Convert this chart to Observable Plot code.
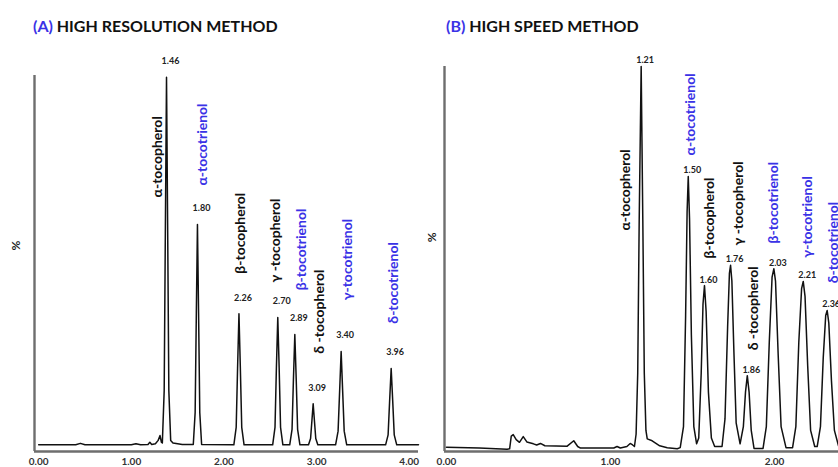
<!DOCTYPE html>
<html><head><meta charset="utf-8">
<script src="https://cdn.jsdelivr.net/npm/d3@7"></script>
<script src="https://cdn.jsdelivr.net/npm/@observablehq/plot@0.6"></script>
<style>
html,body{margin:0;padding:0;width:838px;height:467px;overflow:hidden;background:#fff;font-family:Lato,sans-serif;}
#a,#b{position:absolute;top:0;height:467px;overflow:hidden;}
#a{left:0;width:420px}
#b{left:420px;width:418px}
.title{position:absolute;top:16px;font-weight:bold;font-size:16px;line-height:20px;font-family:Lato,sans-serif;color:#111;white-space:nowrap;}
.title span{color:#3a32e6}
</style></head>
<body>
<div id="a"></div><div id="b"></div>
<div class="title" style="left:33px"><span>(A)</span> HIGH RESOLUTION METHOD</div>
<div class="title" style="left:446px"><span>(B)</span> HIGH SPEED METHOD</div>
<script>
// ---- (A) High resolution method ----
const compoundsA = ["α-tocopherol","α-tocotrienol","β-tocopherol","γ -tocopherol","β-tocotrienol","δ -tocopherol","γ-tocotrienol","δ-tocotrienol"];
const rtLabelsA = ["1.46","1.80","2.26","2.70","2.89","3.09","3.40","3.96"];
const peakXA = [1.380,1.714,2.162,2.581,2.765,2.963,3.265,3.805];
const peakHA = [99.5,59.8,35.7,34.7,30.1,11.4,25.5,20.9];
const nameXA = [1.282,1.765,2.178,2.556,2.837,3.034,3.337,3.827];
const nameYA = [67.1,70.3,46.5,44.1,42.0,24.9,39.3,33.0];
const ticksA = [0,1,2,3,4];
const traceA = [
 [0.00,0.3],[0.40,0.3],[0.45,0.7],[0.50,0.3],[1.00,0.3],[1.05,0.6],[1.10,0.3],[1.18,0.4],[1.20,1.0],[1.22,0.4],[1.26,0.6],[1.29,1.5],[1.31,2.8],[1.325,1.0],
 [1.335,0.8],[1.355,15],[1.368,60],[1.380,99.5],[1.392,60],[1.405,15],[1.425,1.5],[1.45,0.8],[1.55,0.4],
 [1.669,0.4],[1.689,9],[1.702,36],[1.714,59.8],[1.726,36],[1.739,9],[1.759,0.4],
 [2.107,0.3],[2.132,5],[2.147,21],[2.162,35.7],[2.177,21],[2.192,5],[2.217,0.3],
 [2.526,0.3],[2.551,5],[2.566,21],[2.581,34.7],[2.596,21],[2.611,5],[2.636,0.3],
 [2.71,0.3],[2.735,4.5],[2.75,18],[2.765,30.1],[2.78,18],[2.795,4.5],[2.82,0.3],
 [2.913,0.3],[2.935,2],[2.95,7],[2.963,11.4],[2.976,7],[2.991,2],[3.013,0.3],
 [3.205,0.3],[3.232,4],[3.249,15],[3.265,25.5],[3.281,15],[3.298,4],[3.325,0.3],
 [3.745,0.3],[3.772,3],[3.789,12.5],[3.805,20.9],[3.821,12.5],[3.838,3],[3.865,0.3],[4.10,0.3]
];

// ---- (B) High speed method ----
const compoundsB = ["α-tocopherol","α-tocotrienol","β-tocopherol","γ -tocopherol","δ -tocopherol","β-tocotrienol","γ-tocotrienol","δ-tocotrienol"];
const rtLabelsB = ["1.21","1.50","1.60","1.76","1.86","2.03","2.21","2.36"];
const peakXB = [1.187,1.474,1.573,1.732,1.834,1.996,2.175,2.321];
const peakHB = [100,71.3,42.8,48.1,19.3,47.2,43.9,36.3];
const nameXB = [1.091,1.488,1.604,1.780,1.874,1.996,2.199,2.362];
const nameYB = [57.2,76.8,49.9,53.3,25.9,53.8,50.1,43.4];
const ticksB = [0,1,2];
const traceB = [
 [0.0,0.6],[0.2,0.4],[0.37,0.1],[0.385,0.2],[0.395,3.5],[0.407,3.9],[0.425,2.6],[0.445,1.9],[0.468,3.4],[0.49,2.0],[0.53,1.5],[0.55,1.2],[0.573,1.6],[0.60,1.0],[0.736,0.9],[0.776,2.3],[0.80,0.8],[0.817,0.4],[1.02,0.4],[1.04,0.8],[1.06,0.4],[1.10,0.8],[1.12,1.6],[1.135,1.2],[1.146,0.8],
 [1.156,4],[1.166,20],[1.175,60],[1.187,100],[1.197,60],[1.206,20],[1.216,5],[1.224,2.8],[1.254,2.3],[1.30,1.0],[1.346,0.5],[1.407,0.2],
 [1.425,0.5],[1.445,6],[1.458,35],[1.467,62],[1.474,71.3],[1.482,60],[1.493,30],[1.508,6],[1.525,1.5],
 [1.538,3],[1.553,20],[1.564,38],[1.573,42.8],[1.583,36],[1.597,15],[1.615,3],[1.635,0.8],
 [1.68,0.8],[1.698,8],[1.714,32],[1.725,46],[1.732,48.1],[1.740,44],[1.752,26],[1.766,7],[1.79,1.5],
 [1.81,6],[1.823,15],[1.834,19.3],[1.845,15],[1.858,5],[1.875,0.3],
 [1.93,0.3],[1.95,6],[1.968,28],[1.985,45],[1.996,47.2],[2.006,44],[2.022,25],[2.04,6],[2.07,0.5],
 [2.11,0.5],[2.13,6],[2.148,28],[2.165,42],[2.175,43.9],[2.186,40],[2.202,22],[2.22,5],[2.245,0.8],
 [2.26,0.8],[2.28,6],[2.297,24],[2.312,35],[2.321,36.3],[2.331,33],[2.347,18],[2.365,5],[2.39,1],[2.45,0.5]
];

const BLUE = "#3a32e6", AXIS = "#6e6e6e";
const colorOf = n => n.includes("tocotrienol") ? BLUE : "#111";

function chart({width, marginLeft, marginRight, marginTop, xDomain, yDomain, ticks, trace, compounds, rtLabels, peakX, peakH, nameX, nameY, rtDy, pctX, pctY}) {
  const peaks = compounds.map((c, i) => ({c, rt: rtLabels[i], x: peakX[i], h: peakH[i], nx: nameX[i], ny: nameY[i]}));
  return Plot.plot({
    width, height: 467, marginLeft, marginRight, marginTop, marginBottom: 16,
    x: {domain: xDomain},
    y: {domain: yDomain, axis: null},
    style: {fontFamily: "Lato, sans-serif", background: "transparent", overflow: "hidden"},
    marks: [
      Plot.ruleY([yDomain[0]], {stroke: AXIS, strokeWidth: 2.4}),
      Plot.ruleX([xDomain[0]], {stroke: AXIS, strokeWidth: 2.4}),
      Plot.axisX({ticks, tickFormat: d3.format(".2f"), tickSize: 0, tickPadding: 6, fontSize: 10, fontWeight: "bold", color: "#333", label: null}),
      Plot.line(trace, {x: d => d[0], y: d => d[1], stroke: "#111", strokeWidth: 1.5}),
      Plot.text(peaks, {x: "x", y: "h", text: "rt", dx: 4, dy: rtDy, fontSize: 9, fontWeight: "bold", fill: "#222"}),
      Plot.text(peaks, {x: "nx", y: "ny", text: "c", rotate: -90, textAnchor: "start", fontSize: 14, fontWeight: "bold", fill: d => colorOf(d.c)}),
      Plot.text(["%"], {x: pctX, y: pctY, text: d => d, rotate: -90, fontSize: 12, fontWeight: "bold", fill: "#222"})
    ]
  });
}

document.getElementById("a").append(chart({
  width: 420, marginLeft: 34, marginRight: 2, marginTop: 75,
  xDomain: [-0.045, 4.1], yDomain: [-1.5, 100], ticks: ticksA, trace: traceA,
  compounds: compoundsA, rtLabels: rtLabelsA, peakX: peakXA, peakH: peakHA, nameX: nameXA, nameY: nameYA,
  rtDy: -16, pctX: -0.24, pctY: 54.1
}));
document.getElementById("b").append(chart({
  width: 418, marginLeft: 24, marginRight: 0, marginTop: 66,
  xDomain: [-0.012, 2.39], yDomain: [-0.5, 100], ticks: ticksB, trace: traceB,
  compounds: compoundsB, rtLabels: rtLabelsB, peakX: peakXB, peakH: peakHB, nameX: nameXB, nameY: nameYB,
  rtDy: -6, pctX: -0.087, pctY: 55.4
}));
</script>
</body></html>
